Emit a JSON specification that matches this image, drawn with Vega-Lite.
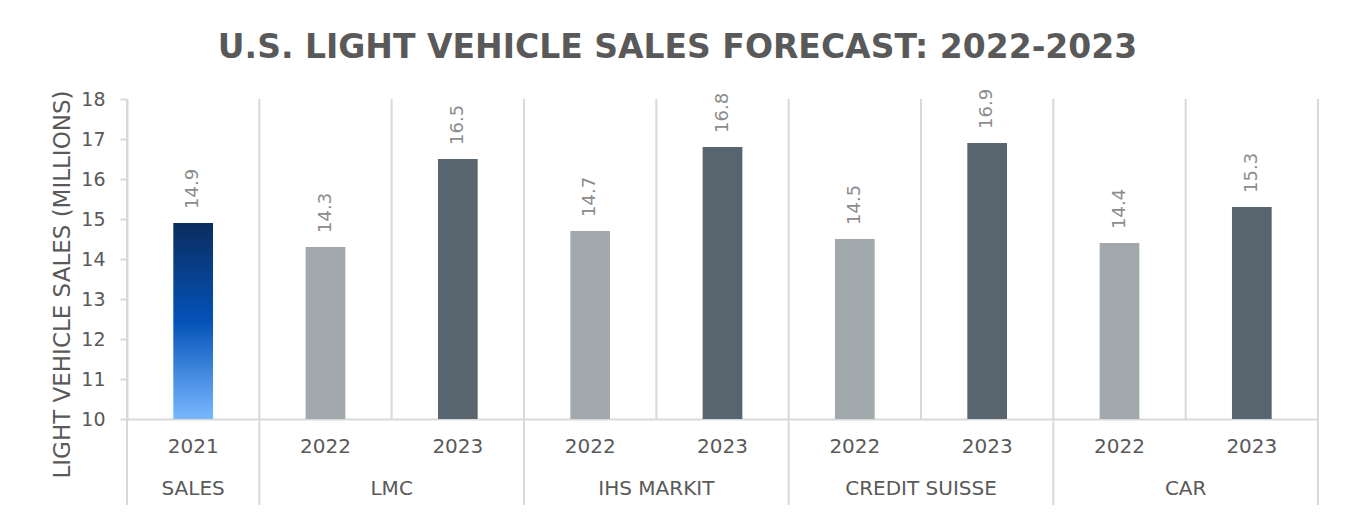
{
  "$schema": "https://vega.github.io/schema/vega-lite/v6.json",
  "width": 1191,
  "height": 320,
  "autosize": "none",
  "padding": {"left": 127, "top": 99, "right": 28, "bottom": 93},
  "background": "white",
  "config": {"view": {"stroke": null}, "font": "DejaVu Sans", "axisY": {"labelOverlap": false}},
  "title": {
    "text": "U.S. LIGHT VEHICLE SALES FORECAST: 2022-2023",
    "anchor": "middle",
    "frame": "group",
    "dx": -45,
    "fontSize": 33,
    "font": "DejaVu Sans",
    "fontWeight": "bold",
    "color": "#595959",
    "baseline": "alphabetic",
    "offset": -2
  },
  "data": {
    "values": [
      {"id": "SALES 2021", "group": "SALES", "year": "2021", "value": 14.9},
      {"id": "LMC 2022", "group": "LMC", "year": "2022", "value": 14.3},
      {"id": "LMC 2023", "group": "LMC", "year": "2023", "value": 16.5},
      {"id": "IHS MARKIT 2022", "group": "IHS MARKIT", "year": "2022", "value": 14.7},
      {"id": "IHS MARKIT 2023", "group": "IHS MARKIT", "year": "2023", "value": 16.8},
      {"id": "CREDIT SUISSE 2022", "group": "CREDIT SUISSE", "year": "2022", "value": 14.5},
      {"id": "CREDIT SUISSE 2023", "group": "CREDIT SUISSE", "year": "2023", "value": 16.9},
      {"id": "CAR 2022", "group": "CAR", "year": "2022", "value": 14.4},
      {"id": "CAR 2023", "group": "CAR", "year": "2023", "value": 15.3}
    ]
  },
  "encoding": {
    "x": {
      "field": "id",
      "type": "nominal",
      "scale": {
        "domain": ["SALES 2021", "LMC 2022", "LMC 2023", "IHS MARKIT 2022", "IHS MARKIT 2023", "CREDIT SUISSE 2022", "CREDIT SUISSE 2023", "CAR 2022", "CAR 2023"],
        "paddingInner": 0.7,
        "paddingOuter": 0.35
      },
      "axis": {
        "title": null,
        "labelExpr": "substring(datum.label, length(datum.label) - 4)",
        "labelAngle": 0,
        "ticks": false,
        "tickSize": 0,
        "labelPadding": 27,
        "labelBaseline": "middle",
        "labelFontSize": 20,
        "labelColor": "#595959",
        "labelFont": "DejaVu Sans",
        "domainColor": "#d9d9d9",
        "domainWidth": 2,
        "grid": false
      }
    },
    "y": {
      "field": "value",
      "type": "quantitative",
      "scale": {"domain": [10, 18], "zero": false, "nice": false},
      "axis": {
        "values": [10, 11, 12, 13, 14, 15, 16, 17, 18],
        "labelOverlap": false,
        "title": "LIGHT VEHICLE SALES (MILLIONS)",
        "titleFontSize": 23,
        "titleFont": "DejaVu Sans",
        "titleFontWeight": "normal",
        "titleColor": "#595959",
        "titleAngle": -90,
        "titleAlign": "center",
        "titleBaseline": "middle",
        "titleX": -65,
        "titleY": 185,
        "labelFontSize": 19,
        "labelColor": "#595959",
        "labelPadding": 15,
        "tickSize": 7,
        "tickColor": "#d9d9d9",
        "tickWidth": 2,
        "domainColor": "#d9d9d9",
        "domainWidth": 2,
        "grid": false
      }
    }
  },
  "layer": [
    {
      "transform": [{"filter": "datum.year == '2023'"}],
      "mark": {"type": "rule", "color": "#d9d9d9", "strokeWidth": 2},
      "encoding": {
        "x": {"field": "id", "type": "nominal", "bandPosition": -1.16667},
        "y": {"datum": 18},
        "y2": {"datum": 10}
      }
    },
    {
      "transform": [{"filter": "datum.year != '2023'"}],
      "mark": {"type": "rule", "color": "#d9d9d9", "strokeWidth": 2},
      "encoding": {
        "x": {"field": "id", "type": "nominal", "bandPosition": -1.16667},
        "y": {"datum": 18},
        "y2": {"datum": 7.85}
      }
    },
    {
      "transform": [{"filter": "datum.id == 'CAR 2023'"}],
      "mark": {"type": "rule", "color": "#d9d9d9", "strokeWidth": 2},
      "encoding": {
        "x": {"field": "id", "type": "nominal", "bandPosition": 2.16667},
        "y": {"datum": 18},
        "y2": {"datum": 7.85}
      }
    },
    {
      "transform": [{"filter": "datum.year != '2021'"}],
      "mark": {"type": "bar"},
      "encoding": {
        "y2": {"datum": 10},
        "color": {
          "field": "year",
          "type": "nominal",
          "scale": {"domain": ["2022", "2023"], "range": ["#a2a9ac", "#59656e"]},
          "legend": null
        }
      }
    },
    {
      "transform": [{"filter": "datum.year == '2021'"}],
      "mark": {
        "type": "bar",
        "color": {
          "gradient": "linear",
          "x1": 0, "y1": 0, "x2": 0, "y2": 1,
          "stops": [
            {"offset": 0, "color": "#0a2d5e"},
            {"offset": 0.5, "color": "#0452b8"},
            {"offset": 1, "color": "#78b8ff"}
          ]
        }
      },
      "encoding": {
        "y2": {"datum": 10}
      }
    },
    {
      "mark": {"type": "text", "angle": -90, "align": "left", "baseline": "middle", "dx": 14, "fontSize": 18, "color": "#8c8c8c", "font": "DejaVu Sans"},
      "encoding": {
        "text": {"field": "value", "type": "quantitative", "format": ".1f"}
      }
    },
    {
      "transform": [{"filter": "datum.year == '2021'"}],
      "mark": {"type": "text", "baseline": "middle", "align": "center", "fontSize": 20, "color": "#595959", "font": "DejaVu Sans"},
      "encoding": {
        "y": {"datum": 8.25},
        "text": {"field": "group"}
      }
    },
    {
      "transform": [{"filter": "datum.year == '2023'"}],
      "mark": {"type": "text", "baseline": "middle", "align": "center", "fontSize": 20, "color": "#595959", "font": "DejaVu Sans"},
      "encoding": {
        "x": {"field": "id", "type": "nominal", "bandPosition": -1.16667},
        "y": {"datum": 8.25},
        "text": {"field": "group"}
      }
    }
  ]
}
